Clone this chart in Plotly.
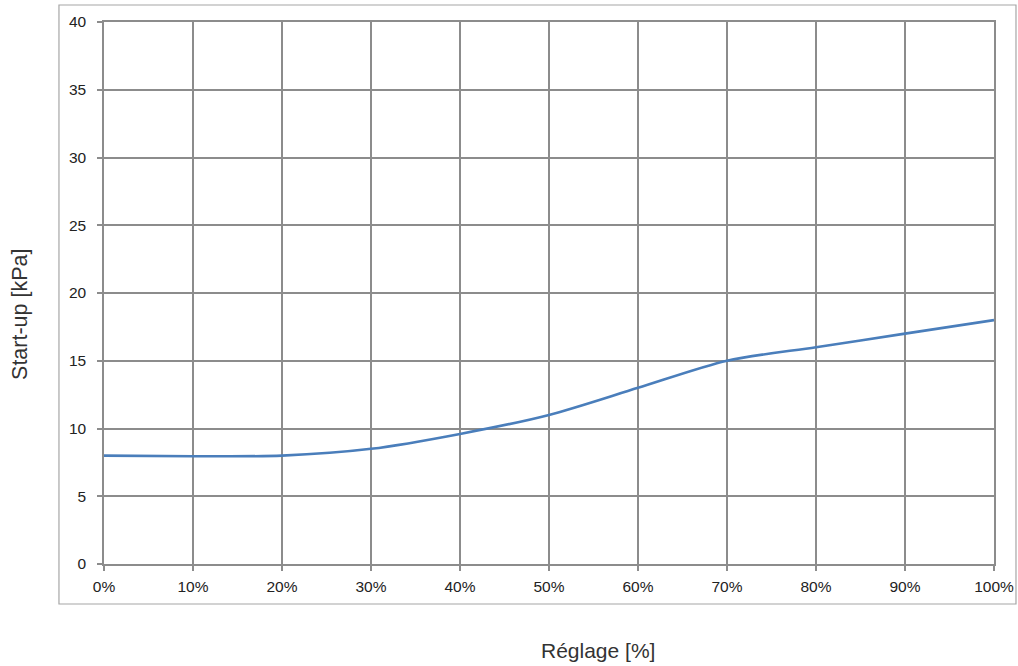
import plotly.graph_objects as go

reglage = [0, 10, 20, 30, 40, 50, 60, 70, 80, 90, 100]
startup = [8.0, 7.95, 8.0, 8.5, 9.6, 11.0, 13.0, 15.0, 16.0, 17.0, 18.0]
x_ticks = [0, 10, 20, 30, 40, 50, 60, 70, 80, 90, 100]
x_labels = [f"{v}%" for v in x_ticks]
y_ticks = [0, 5, 10, 15, 20, 25, 30, 35, 40]
x_title = "Réglage [%]"
y_title = "Start-up [kPa]"

fig = go.Figure()
fig.add_trace(go.Scatter(
    x=reglage, y=startup, mode="lines",
    line=dict(color="#4A7EBB", width=2.6, shape="spline", smoothing=0.8),
    showlegend=False, hoverinfo="x+y"))

axis_common = dict(
    showgrid=True, gridcolor="#8C8C8C", gridwidth=1.5,
    showline=True, linecolor="#8C8C8C", linewidth=1.5, mirror=True,
    ticks="outside", ticklen=5, tickcolor="#8C8C8C", tickwidth=1.5,
    zeroline=False, automargin=False,
    tickfont=dict(family="Liberation Sans, Arial, sans-serif", size=15.5, color="#222222"),
)

title_font = dict(family="Liberation Sans, Arial, sans-serif", size=21, color="#333333")

fig.update_layout(
    width=1018, height=666,
    margin=dict(l=104, r=24, t=22, b=102),
    paper_bgcolor="white", plot_bgcolor="white",
    xaxis=dict(range=[0, 100], tickvals=x_ticks, ticktext=x_labels,
               ticklabelstandoff=3, **axis_common),
    yaxis=dict(range=[0, 40], tickvals=y_ticks, ticklabelstandoff=8, **axis_common),
    annotations=[
        dict(text=x_title, xref="paper", yref="paper", x=0.555, y=-0.1587,
             xanchor="center", yanchor="middle", showarrow=False, font=title_font),
        dict(text=y_title, xref="paper", yref="paper", x=-0.0944, y=0.4613,
             xanchor="center", yanchor="middle", showarrow=False, textangle=-90,
             font=dict(family="Liberation Sans, Arial, sans-serif", size=21.5, color="#333333")),
    ],
    shapes=[dict(type="rect", xref="paper", yref="paper",
                 x0=-0.0506, x1=1.0247, y0=-0.0738, y1=1.0314,
                 line=dict(color="#A6A6A6", width=1.2), fillcolor="rgba(0,0,0,0)", layer="below")],
)

fig.write_html("out.html", config={"displayModeBar": False},
               post_script="document.body.style.margin='0';document.body.style.overflow='hidden';")
